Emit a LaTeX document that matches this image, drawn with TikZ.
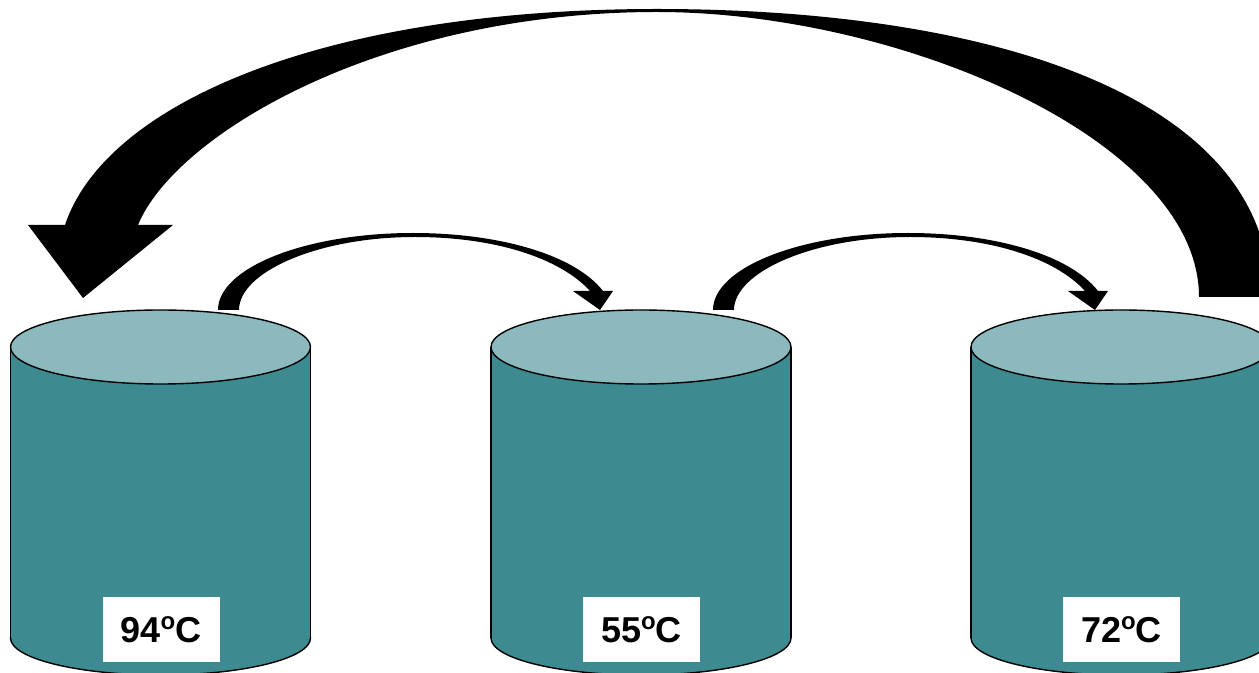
\documentclass[tikz,border=0pt]{standalone}
\usepackage{fontspec}
\setmainfont{Liberation Sans}
\usetikzlibrary{positioning}
\definecolor{tankbody}{RGB}{61,139,145}
\definecolor{tanklid}{RGB}{139,185,189}
\newcommand{\degsign}{\raisebox{6.6pt}{\fontsize{12}{12}\selectfont o}}
\tikzset{
  tankwall/.style={fill=tankbody, draw=black, line width=0.7pt},
  tanktop/.style={fill=tanklid, draw=black, line width=0.7pt},
  templabel/.style={fill=white, minimum width=58.5pt, minimum height=32.5pt, inner sep=0pt, font=\fontsize{18}{18}\selectfont\bfseries},
  cyclearrow/.style={fill=black, draw=none},
  smallloop/.pic={
    \fill[cyclearrow] (218,310) -- (239,310)
      .. controls (239,272) and (318,237) .. (415,237)
      .. controls (495,237) and (560,258) .. (590,291)
      -- (573,291) -- (600,310) -- (613,291) -- (603,291)
      .. controls (575,255) and (500,233) .. (413,233)
      .. controls (305,233) and (218,268) .. (218,310) -- cycle;
  }
}

\begin{document}
\begin{tikzpicture}[x=0.5pt, y=-0.5pt]
  \useasboundingbox (0,0) rectangle (1259,673);
  \clip (0,0) rectangle (1259,673);

  % three tanks
  \foreach \cx/\t in {160.5/94, 641/55, 1121/72} {
    \filldraw[tankwall] (\cx,638) ellipse [x radius=150, y radius=37];
    \fill[tankbody] (\cx-150,347) rectangle (\cx+150,638);
    \draw[line width=0.7pt] (\cx-150,347) -- (\cx-150,638) (\cx+150,347) -- (\cx+150,638);
    \filldraw[tanktop] (\cx,347) ellipse [x radius=150, y radius=37];
    \node[templabel] (t\t) at (\cx+0.5,629.5) {\t\degsign C};
  }

  % step arrows
  \pic (loopa) at (0,0) {smallloop};
  \pic (loopb) at (495,0) {smallloop};

  % back to the first tank
  \fill[cyclearrow] (1270,297) -- (1199,297)
    .. controls (1199,140) and (900,12) .. (657,12)
    .. controls (380,12) and (175,135) .. (138,225)
    -- (173,225) -- (83,298) -- (28,225) -- (65,225)
    .. controls (105,105) and (320,9) .. (657,9)
    .. controls (1000,9) and (1270,100) .. (1270,297) -- cycle;
\end{tikzpicture}
\end{document}
